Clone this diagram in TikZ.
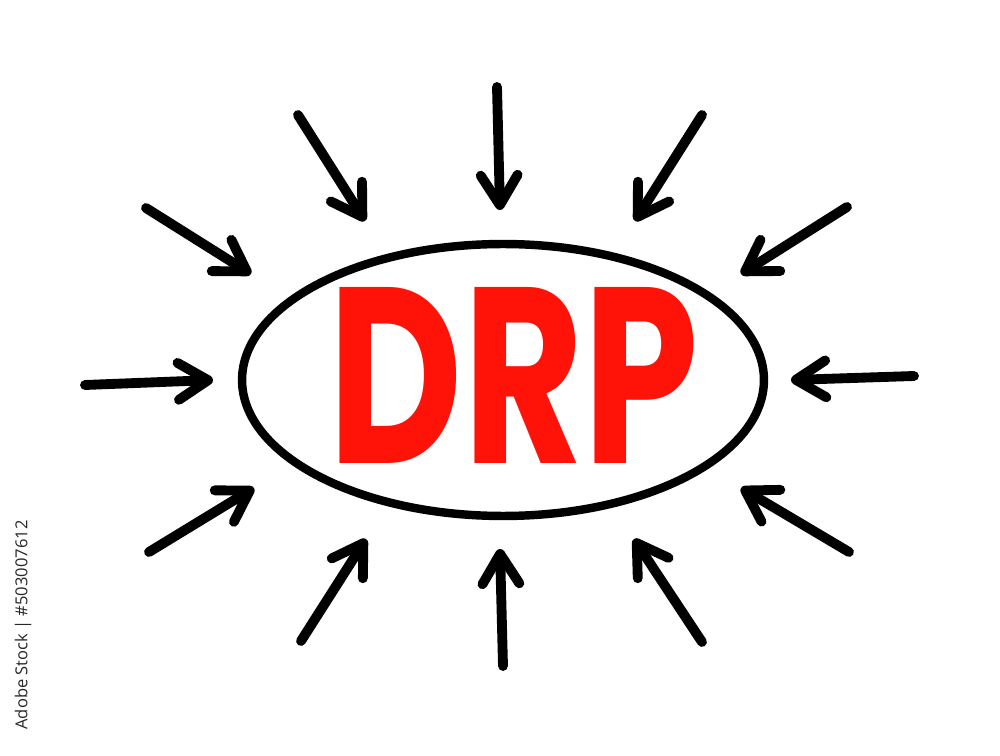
\documentclass[tikz,border=0pt]{standalone}
\usepackage{fontspec}
\usetikzlibrary{arrows.meta,shapes.geometric}
\newfontfamily\drpfont{Poppins}
\newfontfamily\wmfont{Open Sans}
\definecolor{drpred}{RGB}{255,18,8}
\definecolor{wmgray}{RGB}{40,40,40}
\begin{document}
\begin{tikzpicture}[x=0.02cm,y=-0.02cm,
  arr/.style={line width=5.6pt, line cap=round, -{Straight Barb[length=17pt,width=21pt,round]}},
  ring/.style={ellipse, draw, line width=4.8pt, minimum width=10.44cm, minimum height=5.44cm, inner sep=0pt}]
\useasboundingbox[fill=white] (0,0) rectangle (1000,756);
\node[ring] (e) at (503,380) {};
\node[inner sep=0pt, text=drpred] (t) at (514,375) {\resizebox{7.4cm}{3.52cm}{\drpfont\bfseries DRP}};
\foreach \i/\sx/\sy/\tx/\ty in {
  1/497/87/500/210,
  2/298/115/365/221,
  3/702/115/635/221,
  4/146/208/251/274,
  5/847/207/741/274,
  6/85/385/213/380,
  7/914/376/791/380,
  8/149/552/254/488,
  9/849/552/741/488,
  10/301/641/366/539,
  11/503/666/500/549,
  12/702/642/634/539}{
  \coordinate (s\i) at (\sx,\sy);
  \coordinate (t\i) at (\tx,\ty);
  \draw[arr] (s\i) -- (t\i);
}
\node[rotate=90, inner sep=0pt, text=wmgray, font=\wmfont\fontsize{9.4pt}{11pt}\selectfont] (wm) at (23,625) {Adobe Stock | \#503007612};
\end{tikzpicture}
\end{document}
